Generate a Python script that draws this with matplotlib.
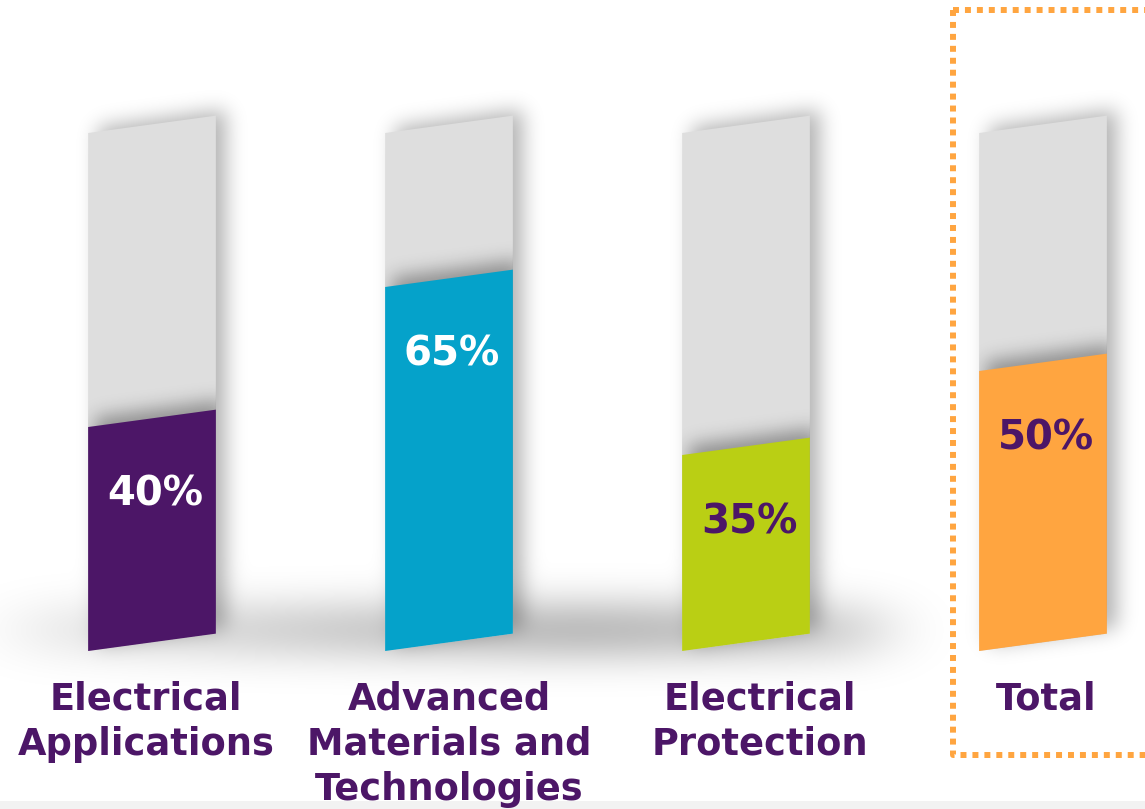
import numpy as np
import matplotlib
matplotlib.use("Agg")
import matplotlib.pyplot as plt
from matplotlib.patches import Polygon, Rectangle
from matplotlib.path import Path

# ---------------- data ----------------
categories = ["Electrical\nApplications", "Advanced\nMaterials and\nTechnologies",
              "Electrical\nProtection", "Total"]
values = [40, 65, 35, 50]
value_labels = ["40%", "65%", "35%", "50%"]
bar_colors = ["#4C1667", "#05A2CA", "#BACF14", "#FFA540"]
label_colors = ["white", "white", "#4C1667", "#4C1667"]

# ---------------- style / layout ----------------
W, H = 1145, 809
DPI = 100
PURPLE = "#4C1667"
GRAY = "#DEDEDE"
TRACK = 92.5          # height of the grey track
SKEW = 3.1            # right edge is higher than left edge (value units)
BAR_W = 0.43          # bar width in category units
PX_X = 297.0          # pixels per category
PX_Y = 5.6            # pixels per value unit
X0_PX = 152.0         # pixel x of first category center
Y0_PX = 651.0         # pixel y (from top) of bar baseline
LABEL_DX_PX = [-6, 0, 14, 3]   # small horizontal nudges of category labels

fig = plt.figure(figsize=(W / DPI, H / DPI), dpi=DPI)
fig.patch.set_facecolor("white")
fig.add_artist(Rectangle((0, 0), 1, 8 / H, transform=fig.transFigure,
                         facecolor="#F2F2F2", edgecolor="none", zorder=-1))

ax = fig.add_axes([0, 0, 1, 1])
ax.set_xlim(-X0_PX / PX_X, (W - X0_PX) / PX_X)
ax.set_ylim(-(H - Y0_PX) / PX_Y, Y0_PX / PX_Y)
ax.axis("off")
ax.patch.set_alpha(0)

x_pos = np.arange(len(categories))


def para(xc, y0, y1):
    xl, xr = xc - BAR_W / 2, xc + BAR_W / 2
    return np.array([[xl, y0], [xr, y0 + SKEW], [xr, y1 + SKEW], [xl, y1]])


track_polys = [para(x, 0, TRACK) for x in x_pos]
fill_polys = [para(x, 0, v) for x, v in zip(x_pos, values)]

# ---------------- shadow rasters (pixel space) ----------------
yy, xx = np.mgrid[0:H, 0:W]
pts = np.column_stack([xx.ravel() + 0.5, yy.ravel() + 0.5])


def to_px(poly):
    d = ax.transData.transform(poly)
    d[:, 1] = H - d[:, 1]
    return d


def raster(poly_px):
    return Path(poly_px).contains_points(pts).reshape(H, W).astype(float)


def gauss_kernel(s):
    r = int(3 * s)
    k = np.exp(-0.5 * (np.arange(-r, r + 1) / s) ** 2)
    return k / k.sum()


def blur(a, sx, sy):
    kx, ky = gauss_kernel(sx), gauss_kernel(sy)
    a = np.apply_along_axis(lambda r: np.convolve(r, kx, mode="same"), 1, a)
    a = np.apply_along_axis(lambda c: np.convolve(c, ky, mode="same"), 0, a)
    return a


# background shadows of tracks
bg = np.zeros((H, W))
for p in track_polys:
    pp = to_px(p)
    pp[:, 0] += 10
    pp[:, 1] -= 6
    bg = np.maximum(bg, raster(pp))
bg = blur(bg, 10, 10) * 0.30

# floor shadow
floor = np.zeros((H, W))
floor[608:652, 10:880] = 1.0
weight = np.clip(1 - np.abs(np.arange(W) - 580) / 620.0, 0, 1) ** 0.7
floor = blur(floor * weight[None, :], 38, 20) * 0.36
bg = 1 - (1 - bg) * (1 - floor)

rgba = np.zeros((H, W, 4))
rgba[..., 3] = np.clip(bg, 0, 1)
ext = (ax.get_xlim()[0], ax.get_xlim()[1], ax.get_ylim()[0], ax.get_ylim()[1])
ax.imshow(rgba, extent=ext, origin="upper", aspect="auto", zorder=0,
          interpolation="bilinear")

# grey tracks
for p in track_polys:
    ax.add_patch(Polygon(p, closed=True, facecolor=GRAY, edgecolor="none", zorder=2))

# shadow cast by the coloured segment onto the grey track
track_mask = np.zeros((H, W))
for p in track_polys:
    track_mask = np.maximum(track_mask, raster(to_px(p)))
cast = np.zeros((H, W))
for p in fill_polys:
    pp = to_px(p)
    pp[:, 0] += 7
    pp[:, 1] -= 10
    cast = np.maximum(cast, raster(pp))
cast = blur(cast, 9, 9) * 0.35 * track_mask
rgba2 = np.zeros((H, W, 4))
rgba2[..., 3] = np.clip(cast, 0, 1)
ax.imshow(rgba2, extent=ext, origin="upper", aspect="auto", zorder=3,
          interpolation="bilinear")

# coloured fills
for p, c in zip(fill_polys, bar_colors):
    ax.add_patch(Polygon(p, closed=True, facecolor=c, edgecolor="none", zorder=4))

# value labels
for x, v, t, c in zip(x_pos, values, value_labels, label_colors):
    ax.text(x + 0.01, v - 12, t, ha="center", va="center", color=c,
            fontsize=29, fontweight="bold", family="DejaVu Sans", zorder=5)

# category labels
for x, cat, dx in zip(x_pos, categories, LABEL_DX_PX):
    ax.text(x + dx / PX_X, -(681 - Y0_PX) / PX_Y, cat, ha="center", va="top",
            color=PURPLE, fontsize=26.5, fontweight="bold", family="DejaVu Sans",
            linespacing=1.27, zorder=5)

# dotted highlight box around "Total"
ov = fig.add_axes([0, 0, 1, 1])
ov.set_xlim(0, W)
ov.set_ylim(H, 0)
ov.axis("off")
ov.patch.set_alpha(0)
ov.plot([953, 953, 1160], [10, 755, 755], color="#FFA540", lw=4.3,
        linestyle=(0, (1, 1)), dash_capstyle="butt")
ov.plot([953, 1160], [10, 10], color="#FFA540", lw=4.3,
        linestyle=(0, (1, 1)), dash_capstyle="butt")

fig.savefig("out.png", dpi=DPI, facecolor="white")
